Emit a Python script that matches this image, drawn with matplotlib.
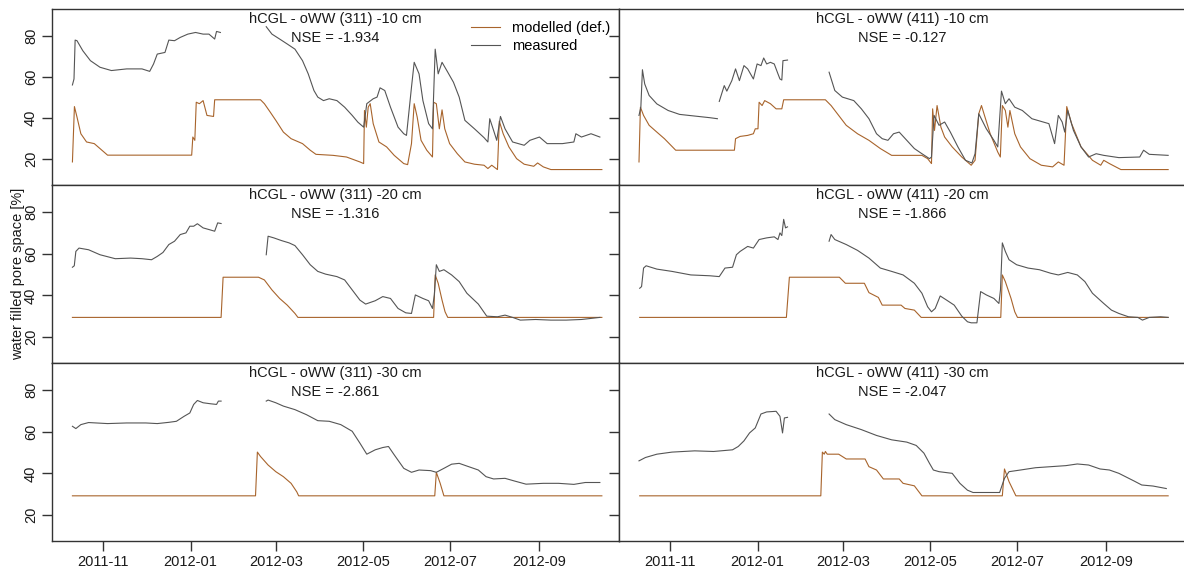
import numpy as np
import pandas as pd
import matplotlib
matplotlib.use('Agg')
import matplotlib.pyplot as plt
import matplotlib.dates as mdates

plt.rcParams['font.family'] = ['Liberation Sans', 'DejaVu Sans']

nan = np.nan
start = pd.Timestamp('2011-11-01')   # day 0 of the day offsets below

# ---- hCGL - oWW (311) -10 cm
mod_311_10_day = [-21.7, -20.3, -18.5, -15.8, -11.8, -6.4, -2.4, 2.9, 61.8, 62.6, 64, 65, 67.2, 69.8, 72.5, 77.1,
                  77.9, 110, 112.7, 116.7, 120.7, 126, 131.4, 139.4, 144.8, 148.8, 160.8, 170.2, 179.6, 182.2,
                  182.8, 184.1, 185.4, 186.8, 188.9, 192.9, 198.3, 203.6, 210.3, 213, 215.7, 217.6, 219.7, 222.4,
                  226.4, 230.4, 231.2, 233.1, 235.2, 237.1, 239, 242.4, 247.8, 253.1, 259.8, 266.5, 269.2, 271.9,
                  275.9, 277.2, 279.9, 283.9, 289.3, 294.6, 301.3, 304, 308, 313.3, 349]
mod_311_10_val = [18.7, 45.6, 40.5, 32.4, 28.4, 27.6, 25.2, 22, 22, 30.8, 29.2, 47.7, 47, 48.5, 41.3, 40.8,
                  48.9, 48.9, 47, 43, 38.9, 33.2, 30, 27.6, 24.4, 22.4, 21.9, 21.1, 18.7, 17.9,
                  43.7, 35.6, 45.3, 47, 37.3, 28.4, 26, 21.9, 17.9, 17.4, 27.6, 47, 40.5, 29.2,
                  24.4, 21.1, 47.7, 47, 34.8, 44, 34.8, 27.6, 22.7, 18.7, 17.6, 17.1, 15.5, 17.1,
                  15, 38.5, 32.4, 26, 20.3, 17.6, 16.6, 18.2, 16.3, 15, 15]
mea_311_10_day = [-21.7, -20.6, -19.8, -18.5, -14.4, -9.1, -2.4, 5.6, 16.3, 27, 32.4, 35.1, 37.7, 43.1, 45.8,
                  49.8, 53.8, 59.1, 64.5, 69.8, 73.9, 77.9, 79.2, 81.9, 98, 114, 118, 123.4, 128.7, 134.1,
                  139.4, 143.4, 147.4, 150.1, 154.1, 158.1, 163.5, 168.9, 174.2, 178.2, 182.2, 184.4, 188.9,
                  191.6, 193.7, 197, 201, 206.3, 210.3, 212.2, 215.7, 217.6, 221, 223.7, 227.7, 230.4, 232.3,
                  234.4, 237.1, 241.1, 245.1, 249.1, 253.1, 259.8, 266.5, 269.2, 270.5, 273.2, 275.4, 278,
                  281.2, 286.5, 294.6, 298.6, 305.3, 310.7, 321.4, 329.4, 330.8, 334.7, 341.4, 347.6]
mea_311_10_val = [56.1, 59, 77.9, 77.6, 72.7, 67.9, 64.7, 63.1, 63.9, 63.9, 62.7, 66.3, 71.1, 71.9, 77.9,
                  77.6, 79.2, 80.8, 81.6, 80.8, 80.8, 78.4, 82.1, 81.6, nan, 84.4, 80.8, 78.4, 76, 73.5,
                  67.9, 61.5, 53.4, 50.2, 48.5, 49.4, 48.5, 45.3, 41.3, 38, 35.6, 47, 49.4,
                  50.2, 54.7, 53.4, 45.3, 35.6, 32.4, 31.6, 55, 67.1, 61.5, 48.5, 37.3, 34.8, 73.5,
                  61.5, 67.1, 62.3, 57.4, 50.2, 38.9, 34.8, 30.5, 28.4, 39.7, 34, 29.2, 40.8,
                  34.8, 28.4, 26.8, 29.2, 30.8, 27.6, 27.6, 28.4, 32.4, 30.8, 32.4, 30.8]

# ---- hCGL - oWW (411) -10 cm
mod_411_10_day = [-22, -21, -18.8, -14.9, -9.5, -4.2, 3.7, 44.8, 45.6, 48.8, 54.1, 58.1, 59.4, 61.3, 62.1,
                  64.2, 66, 70, 74, 78, 79.3, 108.5, 112.5, 117.8, 123.1, 131, 139, 147, 154.9, 176.1,
                  180.1, 182.8, 183.6, 184.9, 186.7, 189.4, 192, 197.3, 204, 210.6, 213.3, 215.9, 217.8,
                  219.9, 223.9, 229.2, 231, 232.4, 234.5, 236.3, 237.7, 241.1, 245.1, 251.7, 259.7, 267.6,
                  271.6, 275.6, 277.5, 280.9, 287.5, 295.5, 301.3, 303.4, 307.4, 315.4, 348.5]
mod_411_10_val = [18.7, 45.3, 41.3, 36.5, 33.2, 30, 24.4, 24.4, 30, 31.1, 31.6, 32.4, 34.8, 34.8, 47.7,
                  46.1, 48.5, 47, 44.5, 44.5, 48.9, 48.9, 46.1, 41.3, 36.5, 32.4, 29.2, 25.2, 21.9, 21.9,
                  20.3, 17.9, 44.5, 34, 46.1, 35.6, 30.8, 26, 21.1, 17.1, 19.5, 42.1, 46.1,
                  41.3, 32.4, 23.5, 21.1, 46.1, 43.7, 35.6, 43.7, 32.4, 26, 20.3, 17.1, 16.3,
                  18.7, 17.1, 45.6, 37.3, 26, 19.5, 17.1, 19.5, 17.9, 15, 15]
mea_411_10_day = [-22, -20.7, -19.6, -18, -14.9, -9.5, -1.6, 6.4, 13, 19.6, 27.6, 32.9, 33.5, 34.2, 37.7,
                  39.5, 43, 45.6, 48.3, 51.5, 54.1, 58.1, 60.7, 63.4, 65.3, 67.4, 70, 72.7, 75.3, 76.7,
                  78, 78.8, 82, 96, 111.1, 115.1, 120.4, 128.4, 133.7, 139, 144.3, 148.3, 152.3, 156.2,
                  160.2, 165.5, 170.8, 176.1, 181.4, 182.8, 184.6, 188.1, 192, 196, 201.3, 206.6, 211.1,
                  213.3, 215.9, 221.2, 226.5, 229.2, 231.8, 234.5, 237.1, 241.1, 246.4, 253.1, 261, 265,
                  269, 271.6, 274.3, 276.1, 278.2, 282.2, 287.5, 292.8, 298.1, 303.4, 314, 328.6, 331.3,
                  335.3, 348.5]
mea_411_10_val = [41.3, 45.3, 63.5, 56.6, 51, 46.9, 43.7, 41.8, 41.3, 40.8, 40.2, 39.7, nan, 48.1, 55.8,
                  53.1, 58.2, 63.9, 58.2, 65.5, 63.9, 59, 66.3, 65.5, 69.2, 66.3, 67.1, 66.3, 61.5, 59,
                  58.5, 67.9, 68.2, nan, 62.3, 53.4, 50.2, 48.5, 44.5, 39.7, 32.4, 30, 29.2, 32.4,
                  33.2, 29.2, 25.2, 22.7, 20.3, 21.1, 41.3, 36.5, 38.1, 33.2, 26, 19.5, 18.2,
                  22.7, 42.1, 34.8, 29.2, 26, 53.1, 47, 49.4, 45.3, 43.7, 39.7, 38.1, 37.3,
                  27.6, 41.3, 38.1, 33.2, 43.7, 34, 26, 21.1, 22.7, 21.9, 20.8, 21.1, 24.4,
                  22.4, 21.9]

# ---- hCGL - oWW (311) -20 cm
mod_311_20_day = [-21.7, 82.4, 83.8, 108.6, 112.7, 118, 123.4, 128.7, 134.1, 136.2, 231.2, 232.3, 234.4,
                  237.1, 239.2, 241.1, 349]
mod_311_20_val = [29.4, 29.4, 48.7, 48.7, 47.4, 42.6, 38.5, 35.3, 31.3, 29.4, 29.4, 49.8, 45.8,
                  37.7, 32.1, 29.4, 29.4]
mea_311_20_day = [-21.7, -20.4, -19.3, -17.1, -10.4, -2.4, 8.3, 19, 27, 33.7, 37.7, 41.7, 45.8, 49.8, 53.8,
                  57.8, 60.5, 63.2, 65.8, 69.8, 73.9, 77.9, 80, 82.4, 98, 114, 115.3, 119.3, 124.7, 130,
                  134.1, 139.4, 144.8, 150.1, 155.5, 163.5, 168.9, 174.2, 179.6, 183.6, 190.3, 195.6, 201,
                  206.3, 211.7, 215.7, 218.4, 223.7, 227.7, 230.4, 231.7, 233.1, 235.2, 238.4, 243.8,
                  249.1, 254.5, 262.5, 268.4, 275.9, 281.2, 286.5, 291.9, 302.6, 313.3, 324, 334.7, 347.6]
mea_311_20_val = [53.5, 54.2, 61.1, 62.7, 61.9, 59.5, 57.6, 57.9, 57.6, 57.1, 58.7, 60.6, 64.4, 66, 69.2,
                  70, 73.2, 73.2, 74.4, 72.4, 71.6, 70.8, 74.8, 74.5, nan, 59.5, 68.4, 67.6, 66.3, 65.2,
                  63.9, 59.5, 54.7, 51.5, 50.2, 49, 47.4, 42.6, 37.7, 35.8, 37.4, 39.4, 38.5,
                  33.7, 31.6, 31.3, 40.2, 38.5, 37.4, 33.7, 40.2, 54.7, 51.5, 52.3, 49.8,
                  46.6, 41, 35.8, 30, 29.7, 30.5, 29.4, 28.1, 28.4, 28.1, 28.1, 28.4, 29.4]

# ---- hCGL - oWW (411) -20 cm
mod_411_20_day = [-21.5, 81.2, 83.3, 118.3, 122.5, 135.8, 139, 145.6, 148.3, 161.5, 164.2, 170.8, 175.6,
                  231.3, 232.4, 234.5, 238.5, 241.1, 243, 348.5]
mod_411_20_val = [29.4, 29.4, 48.7, 48.7, 45.8, 45.8, 41.3, 39, 35.3, 35.3, 33.7, 32.9, 29.4,
                  29.4, 49.8, 46.6, 38.5, 32.1, 29.4, 29.4]
mea_411_20_day = [-21.5, -20.2, -18.8, -17, -9.5, 1.1, 14.3, 27.6, 34.2, 38.2, 43.5, 46.2, 48.8, 54.1, 58.1,
                  62.1, 67.4, 72.7, 75.3, 76.7, 78, 79.3, 80.6, 82, 96, 111.1, 112.5, 115.1, 123.1, 131,
                  139, 147, 154.9, 162.9, 170.8, 176.1, 180.1, 182.8, 185.4, 188.9, 193.4, 198.7, 204, 208,
                  210.6, 214.6, 217.2, 221.2, 226.5, 230, 231.1, 232.4, 234.5, 237.1, 242.4, 250.4, 258.4,
                  266.3, 271.6, 278.2, 284.9, 290.2, 295.5, 303.4, 308.8, 314, 320.7, 327.3, 330.5, 335.3,
                  343.2, 348.5]
mea_411_20_val = [43.4, 44.2, 53.1, 54.2, 52.6, 51.5, 49.8, 49.4, 49, 53.1, 53.5, 59.5, 61.1, 63.5, 62.7,
                  66.8, 67.6, 68.1, 66.8, 70, 68.7, 76.5, 72.4, 72.9, nan, 66, 69.2, 66.8, 64.4, 61.6,
                  57.9, 53.1, 51.5, 49.8, 45.8, 41, 34.5, 32.1, 33.7, 39.7, 37.7, 35.3, 30, 27.3,
                  26.8, 26.8, 41.8, 40.2, 38.5, 36.1, 42.6, 65.2, 61.1, 57.1, 54.7, 53.1, 52.3,
                  50.6, 49.8, 51, 49.8, 46.6, 41, 36.1, 32.9, 31.3, 29.7, 29.4, 28.1, 29.4,
                  29.7, 29.4]

# ---- hCGL - oWW (311) -30 cm
mod_311_30_day = [-21.7, 106.5, 107.8, 110, 115.3, 120.7, 126, 131.4, 135.4, 136.7, 232, 233.1, 235.8, 238.4, 349]
mod_311_30_val = [29.2, 29.2, 50.2, 48.1, 44, 40.8, 38.4, 35.2, 31.1, 29.2, 29.2, 40.5, 35.2, 29.2, 29.2]
mea_311_30_day = [-21.7, -19.3, -15.8, -10.4, 2.9, 16.3, 29.7, 37.7, 45.8, 51.1, 56.5, 60.5, 63.2, 65.8, 69.8,
                  75.2, 79.2, 80.5, 82.4, 98, 114, 115.3, 120.7, 126, 134.1, 142.1, 150.1, 158.1, 166.2,
                  174.2, 179.6, 184.4, 190.3, 195.6, 199.6, 203.6, 210.3, 215.7, 221, 229.1, 233.1, 238.4,
                  243.8, 249.1, 254.5, 262.5, 267.9, 273.2, 281.2, 287.9, 295.9, 308, 318.7, 329.4, 337.4, 347.6]
mea_311_30_val = [62.6, 61.5, 63.4, 64.4, 63.9, 64.2, 64.2, 63.9, 64.5, 65, 67.4, 69, 73.1, 75, 73.9,
                  73.4, 73.1, 74.7, 74.7, nan, 74.7, 75.2, 73.9, 72.3, 70.6, 68.2, 65.3, 65, 63.4,
                  60.2, 54.5, 49.2, 51.3, 52.4, 52.9, 48.9, 42.4, 40.5, 41.6, 41.3, 40.5, 42.4,
                  44.4, 44.8, 43.5, 41.6, 38.4, 37.3, 37.6, 36.3, 34.8, 35.2, 35.2, 34.7, 35.6, 35.6]

# ---- hCGL - oWW (411) -30 cm
mod_411_30_day = [-21.5, 105.3, 106.4, 107.7, 108.5, 109.8, 117.8, 123.1, 136.3, 139, 144.3, 149.1, 160.2,
                  162.9, 170.8, 176.1, 232.4, 233.9, 237.1, 241.9, 348.5]
mod_411_30_val = [29.2, 29.2, 50.2, 49.2, 50.5, 49.2, 49.2, 46.9, 46.9, 43.2, 41.6, 37.3, 37.3,
                  35.2, 34, 29.2, 29.2, 42.1, 36, 29.2, 29.2]
mea_411_30_day = [-22, -17.5, -9.5, 1.1, 17, 30.2, 43.5, 47.5, 51.5, 55.4, 59.4, 63.4, 67.4, 74, 76.7,
                  78.5, 79.8, 82, 96, 111.1, 115.1, 123.1, 133.7, 144.3, 154.9, 165.5, 172.1, 177.5, 181.4,
                  184.1, 188.1, 197.3, 202.7, 208, 211.9, 221.2, 230.5, 233.9, 237.1, 245.1, 255.7, 266.3,
                  276.9, 284.9, 292.8, 300.8, 307.4, 314, 324.7, 330, 337.9, 347.2]
mea_411_30_val = [46, 47.6, 49.2, 50.2, 50.8, 50.5, 51.3, 52.9, 55.6, 59.4, 61.8, 68.5, 69.5, 69.8, 67.4,
                  59.4, 66.6, 66.9, nan, 68.5, 65.8, 63.4, 61, 58.2, 56.1, 55, 53.4, 49.7, 44.8,
                  41.6, 40.8, 40, 35.2, 31.9, 30.8, 30.8, 30.8, 37.6, 40.8, 41.6, 42.7, 43.2,
                  43.7, 44.5, 44, 42.1, 41.6, 40, 36.3, 34.4, 33.9, 32.7]

titles = [['hCGL - oWW (311) -10 cm', 'hCGL - oWW (411) -10 cm'],
          ['hCGL - oWW (311) -20 cm', 'hCGL - oWW (411) -20 cm'],
          ['hCGL - oWW (311) -30 cm', 'hCGL - oWW (411) -30 cm']]
nse = [['-1.934', '-0.127'], ['-1.316', '-1.866'], ['-2.861', '-2.047']]
series = [[(mod_311_10_day, mod_311_10_val, mea_311_10_day, mea_311_10_val),
           (mod_411_10_day, mod_411_10_val, mea_411_10_day, mea_411_10_val)],
          [(mod_311_20_day, mod_311_20_val, mea_311_20_day, mea_311_20_val),
           (mod_411_20_day, mod_411_20_val, mea_411_20_day, mea_411_20_val)],
          [(mod_311_30_day, mod_311_30_val, mea_311_30_day, mea_311_30_val),
           (mod_411_30_day, mod_411_30_val, mea_411_30_day, mea_411_30_val)]]

c_mod = '#A8642C'
c_mea = '#555555'
c_ax = '#333333'


def to_dates(days):
    return start + pd.to_timedelta(np.array(days, dtype=float), unit='D')


W, H = 1184, 568
fig = plt.figure(figsize=(W / 100, H / 100), dpi=100)
col_x = [52, 619]
col_w = 567
row_y = [9, 185, 363]
row_h = [176, 178, 178]

for r in range(3):
    for c in range(2):
        ax = fig.add_axes([col_x[c] / W, 1 - (row_y[r] + row_h[r]) / H, col_w / W, row_h[r] / H])
        md, mv, sd, sv = series[r][c]
        ax.plot(to_dates(md), mv, color=c_mod, lw=0.8, label='modelled (def.)')
        ax.plot(to_dates(sd), sv, color=c_mea, lw=0.8, label='measured')
        ax.set_xlim(start - pd.Timedelta(days=36), start + pd.Timedelta(days=361))
        ax.set_ylim(7.5, 93)
        ax.set_yticks([20, 40, 60, 80])
        ax.xaxis.set_major_locator(mdates.MonthLocator(bymonth=[1, 3, 5, 7, 9, 11]))
        ax.xaxis.set_major_formatter(mdates.DateFormatter('%Y-%m'))
        ax.tick_params(direction='out', length=7, width=1, color=c_ax, labelsize=10.5,
                       labelcolor='#1a1a1a', pad=3)
        ax.tick_params(axis='y', labelrotation=90)
        for lab in ax.get_yticklabels():
            lab.set_va('center')
        for s in ax.spines.values():
            s.set_color(c_ax)
            s.set_linewidth(1)
        if c == 1:
            ax.tick_params(axis='y', labelleft=False)
            ax.spines['right'].set_visible(False)
        if r < 2:
            ax.tick_params(axis='x', labelbottom=False)
        h = row_h[r]
        ax.text(0.5, 1 - 10 / h, titles[r][c], transform=ax.transAxes, ha='center', va='center',
                fontsize=10.5, color='#1a1a1a')
        ax.text(0.5, 1 - 29 / h, 'NSE = ' + nse[r][c], transform=ax.transAxes, ha='center', va='center',
                fontsize=10.5, color='#1a1a1a')
        if r == 0 and c == 0:
            ax.legend(loc='upper right', bbox_to_anchor=(0.995, 0.965), frameon=False, fontsize=10.5,
                      handlelength=2.0, handletextpad=0.8, labelspacing=0.25, borderaxespad=0)

fig.text(18 / W, 1 - 274 / H, 'water filled pore space [%]', rotation=90, ha='center', va='center',
         fontsize=10.5, color='#1a1a1a')

fig.savefig('out.png', dpi=100)
